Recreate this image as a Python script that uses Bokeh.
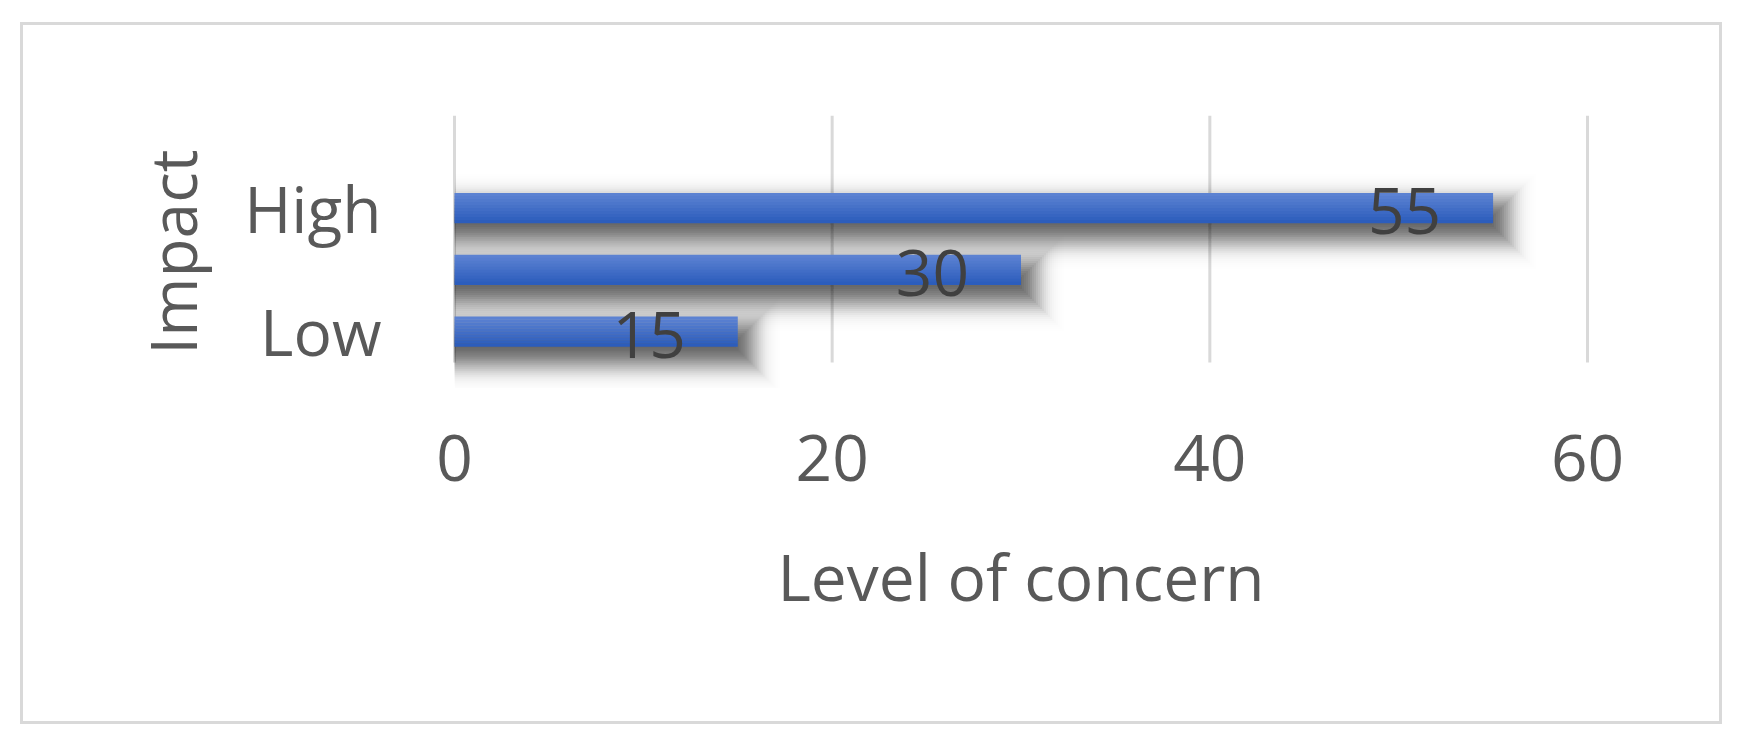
import math
from bokeh.plotting import figure
from bokeh.models import Range1d, FixedTicker, ColumnDataSource
from bokeh.core.properties import value
from bokeh.embed import file_html
from bokeh.resources import INLINE

# ---- data ----
categories = ["Low", "Medium", "High"]
values = [15, 30, 55]
shown_labels = ["Low", "High"]
x_ticks = [0, 20, 40, 60]
x_title = "Level of concern"
y_title = "Impact"

FONT = "Open Sans"
FS = "64px"
W, H = 1702, 702

# pixel scales of the frame
PX_PER_X = 1133.0 / 60.0
PX_PER_Y = 247.0 / 4.0
xpx = 1.0 / PX_PER_X
ypx = 1.0 / PX_PER_Y

pos = [i + 0.5 for i in range(len(categories))]
p = figure(width=W, height=H, output_backend="svg", toolbar_location=None,
           x_range=Range1d(x_ticks[0] - 3 * xpx, x_ticks[-1] + 3 * xpx),
           y_range=Range1d(-26 * ypx, len(categories) + 1),
           min_border_left=428, min_border_right=135,
           min_border_top=90, min_border_bottom=339,
           margin=(22, 0, 0, 20),
           styles={"border": "3px solid #d9d9d9"})
p.outline_line_color = None
p.background_fill_color = "white"
p.border_fill_color = "white"

# vertical gridlines
p.segment(x0=x_ticks, y0=[0] * len(x_ticks), x1=x_ticks,
          y1=[len(categories) + 1] * len(x_ticks),
          line_color="#d9d9d9", line_width=3)

bar_h = 30 * ypx

# soft drop shadow (layered, gaussian-weighted)
sigma = 13.0
dy = 13.0
ext = 10.0
spreads = list(range(-13, 40, 2))
weights = [math.exp(-s * s / (2 * sigma * sigma)) for s in spreads]
tot = sum(weights)
for s, w in zip(spreads, weights):
    a = 0.85 * w / tot
    src = ColumnDataSource(dict(
        y=[v - dy * ypx for v in pos],
        right=[v + (ext + s) * xpx for v in values],
    ))
    p.hbar(y="y", left=0, right="right", height=bar_h + 2 * s * ypx, source=src,
           fill_color="black", fill_alpha=a, line_color=None)

# bars with vertical gradient stripes
top_c = (0x5c, 0x82, 0xd2)
bot_c = (0x2c, 0x5d, 0xbc)
N = 10
for i in range(N):
    t = i / (N - 1)
    c = tuple(int(round(top_c[j] + (bot_c[j] - top_c[j]) * t)) for j in range(3))
    col = "#%02x%02x%02x" % c
    src = ColumnDataSource(dict(
        y=[v + bar_h / 2 - (i + 0.5) * bar_h / N for v in pos],
        right=values,
    ))
    p.hbar(y="y", left=0, right="right", height=bar_h / N * 1.08, source=src,
           fill_color=col, line_color=None)

# data labels
lab = ColumnDataSource(dict(x=values, y=pos, t=[str(v) for v in values]))
p.text(x="x", y="y", text="t", source=lab, text_align="right",
       text_baseline="alphabetic", x_offset=-52, y_offset=3,
       text_font=value(FONT), text_font_size=FS, text_color="#404040")

# axes
p.xaxis.ticker = FixedTicker(ticks=x_ticks)
p.xaxis.axis_label = x_title
p.yaxis.ticker = FixedTicker(ticks=[pos[categories.index(c)] for c in shown_labels])
p.yaxis.major_label_overrides = {pos[categories.index(c)]: c for c in shown_labels}
p.yaxis.axis_label = y_title
for ax in (p.xaxis[0], p.yaxis[0]):
    ax.axis_line_color = None
    ax.major_tick_line_color = None
    ax.minor_tick_line_color = None
    ax.major_label_text_font = FONT
    ax.major_label_text_font_size = FS
    ax.major_label_text_color = "#595959"
    ax.axis_label_text_font = FONT
    ax.axis_label_text_font_size = FS
    ax.axis_label_text_color = "#595959"
    ax.axis_label_text_font_style = "normal"
p.xaxis.major_label_standoff = 40
p.xaxis.axis_label_standoff = 49
p.yaxis.major_label_standoff = 64
p.yaxis.axis_label_standoff = 25

p.grid.visible = False

open("out.html", "w").write(file_html(p, INLINE))
